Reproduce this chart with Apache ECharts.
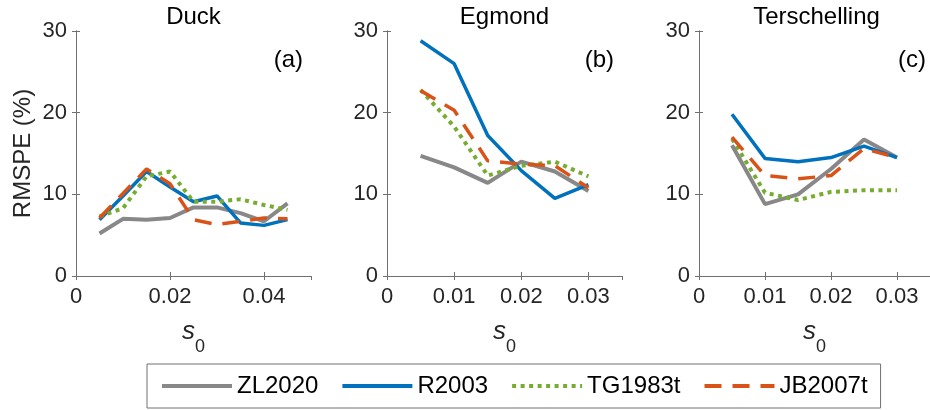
<!DOCTYPE html>
<html>
<head>
<meta charset="utf-8">
<script src="https://cdn.jsdelivr.net/npm/echarts@6/dist/echarts.min.js"></script>
<style>
  html, body { margin: 0; padding: 0; background: #fff; }
  #chart { width: 930px; height: 410px; }
</style>
</head>
<body>
<div id="chart"></div>
<script>
// s0 values
var xDuck = [0.005, 0.01, 0.015, 0.02, 0.025, 0.03, 0.035, 0.04, 0.045];
var xNL = [0.005, 0.01, 0.015, 0.02, 0.025, 0.03];

// RMSPE (%) - Duck
var zlDuck = [5.2, 7.0, 6.9, 7.1, 8.4, 8.4, 7.7, 6.7, 8.9];
var rDuck  = [6.9, 9.8, 12.8, 10.9, 9.1, 9.8, 6.5, 6.2, 6.9];
var tgDuck = [7.3, 8.3, 12.2, 12.8, 9.1, 9.1, 9.4, 8.7, 8.1];
var jbDuck = [7.1, 10.1, 13.1, 11.3, 6.9, 6.3, 6.7, 7.1, 7.0];

// Egmond
var zlEgm = [14.7, 13.3, 11.4, 14.0, 12.8, 10.4];
var rEgm  = [28.8, 26.0, 17.2, 12.9, 9.5, 11.2];
var tgEgm = [22.8, 18.3, 12.3, 13.5, 14.0, 12.2];
var jbEgm = [22.7, 20.3, 14.1, 13.7, 13.5, 10.8];

// Terschelling
var zlTer = [16.0, 8.8, 10.0, 13.1, 16.7, 14.5];
var rTer  = [19.8, 14.4, 14.0, 14.5, 15.9, 14.5];
var tgTer = [16.8, 10.2, 9.3, 10.3, 10.5, 10.5];
var jbTer = [17.0, 12.3, 11.9, 12.3, 15.6, 14.5];

var names = ['ZL2020', 'R2003', 'TG1983t', 'JB2007t'];
var panelTitles = ['Duck', 'Egmond', 'Terschelling'];
var panelTags = ['(a)', '(b)', '(c)'];
var xMax = [0.05, 0.035, 0.035];
var xStep = [0.02, 0.01, 0.01];

var FONT = 'Liberation Sans, Arial, sans-serif';
var AXIS = '#707070';
var colors = ['#888888', '#0072BD', '#77AC30', '#D95319'];
var lineTypes = ['solid', 'solid', [4, 4.5], [17, 11]];
var lineWidths = [4, 3.5, 4, 3.5];

function pairs(xs, ys) {
    return xs.map(function (x, i) { return [x, ys[i]]; });
}

var panels = [
    {x: xDuck, ys: [zlDuck, rDuck, tgDuck, jbDuck]},
    {x: xNL, ys: [zlEgm, rEgm, tgEgm, jbEgm]},
    {x: xNL, ys: [zlTer, rTer, tgTer, jbTer]}
];

var gridLeft = [76, 387, 699];
var grids = [], xAxes = [], yAxes = [], series = [], graphics = [];

panels.forEach(function (p, g) {
    grids.push({left: gridLeft[g], top: 31, width: 235, height: 245});
    // bottom + top x axes
    xAxes.push({
        type: 'value', gridIndex: g, position: 'bottom',
        min: 0, max: xMax[g], interval: xStep[g],
        splitLine: {show: false},
        axisLine: {lineStyle: {color: AXIS}},
        axisTick: {inside: true, length: 4, lineStyle: {color: AXIS}},
        axisLabel: {showMaxLabel: false, margin: 10, fontSize: 22, color: '#262626', fontFamily: FONT},
        name: '{s|s}{z|0}', nameLocation: 'middle', nameGap: 43,
        nameTextStyle: {
            lineHeight: 37,
            rich: {
                s: {fontSize: 26, fontStyle: 'italic', fontFamily: FONT, color: '#262626', verticalAlign: 'top'},
                z: {fontSize: 18, fontFamily: FONT, color: '#262626', verticalAlign: 'bottom'}
            }
        }
    });
    xAxes.push({
        type: 'value', gridIndex: g, position: 'top',
        min: 0, max: xMax[g], interval: xStep[g],
        splitLine: {show: false},
        axisLine: {lineStyle: {color: AXIS}},
        axisTick: {inside: true, length: 4, lineStyle: {color: AXIS}},
        axisLabel: {show: false}
    });
    var yLeft = {
        type: 'value', gridIndex: g, position: 'left',
        min: 0, max: 30, interval: 10,
        splitLine: {show: false},
        axisLine: {show: true, lineStyle: {color: AXIS}},
        axisTick: {show: true, inside: true, length: 4, lineStyle: {color: AXIS}},
        axisLabel: {margin: 9, fontSize: 22, color: '#262626', fontFamily: FONT}
    };
    if (g === 0) {
        yLeft.name = 'RMSPE (%)';
        yLeft.nameLocation = 'middle';
        yLeft.nameRotate = 90;
        yLeft.nameGap = 41;
        yLeft.nameTextStyle = {fontSize: 24, color: '#262626', fontFamily: FONT};
    }
    yAxes.push(yLeft);
    yAxes.push({
        type: 'value', gridIndex: g, position: 'right',
        min: 0, max: 30, interval: 10,
        splitLine: {show: false},
        axisLine: {show: true, lineStyle: {color: AXIS}},
        axisTick: {show: true, inside: true, length: 4, lineStyle: {color: AXIS}},
        axisLabel: {show: false}
    });

    p.ys.forEach(function (ys, k) {
        series.push({
            name: names[k],
            type: 'line',
            xAxisIndex: 2 * g,
            yAxisIndex: 2 * g,
            data: pairs(p.x, ys),
            symbol: 'none',
            color: colors[k],
            lineStyle: {color: colors[k], width: lineWidths[k], type: lineTypes[k], cap: 'butt'},
            z: 2 + k
        });
    });

    graphics.push({
        type: 'text', x: gridLeft[g] + 117.5, y: 17,
        style: {text: panelTitles[g], fontSize: 24, fontFamily: FONT, fill: '#000',
                textAlign: 'center', textVerticalAlign: 'middle'}
    });
    graphics.push({
        type: 'text', x: gridLeft[g] + 227, y: 60,
        style: {text: panelTags[g], fontSize: 24, fontFamily: FONT, fill: '#000',
                textAlign: 'right', textVerticalAlign: 'middle'}
    });
});

var chart = echarts.init(document.getElementById('chart'));
chart.setOption({
    animation: false,
    backgroundColor: '#fff',
    textStyle: {fontFamily: FONT},
    grid: grids,
    xAxis: xAxes,
    yAxis: yAxes,
    legend: {
        data: names,
        left: 147, top: 364,
        itemWidth: 70, itemHeight: 14, itemGap: 22,
        padding: [10, 13, 10, 13],
        borderColor: AXIS, borderWidth: 1,
        itemStyle: {opacity: 0},
        lineStyle: {width: 4},
        textStyle: {fontSize: 24, color: '#000', fontFamily: FONT}
    },
    graphic: graphics,
    series: series
});
window.addEventListener('resize', function () { chart.resize(); });
</script>
</body>
</html>
